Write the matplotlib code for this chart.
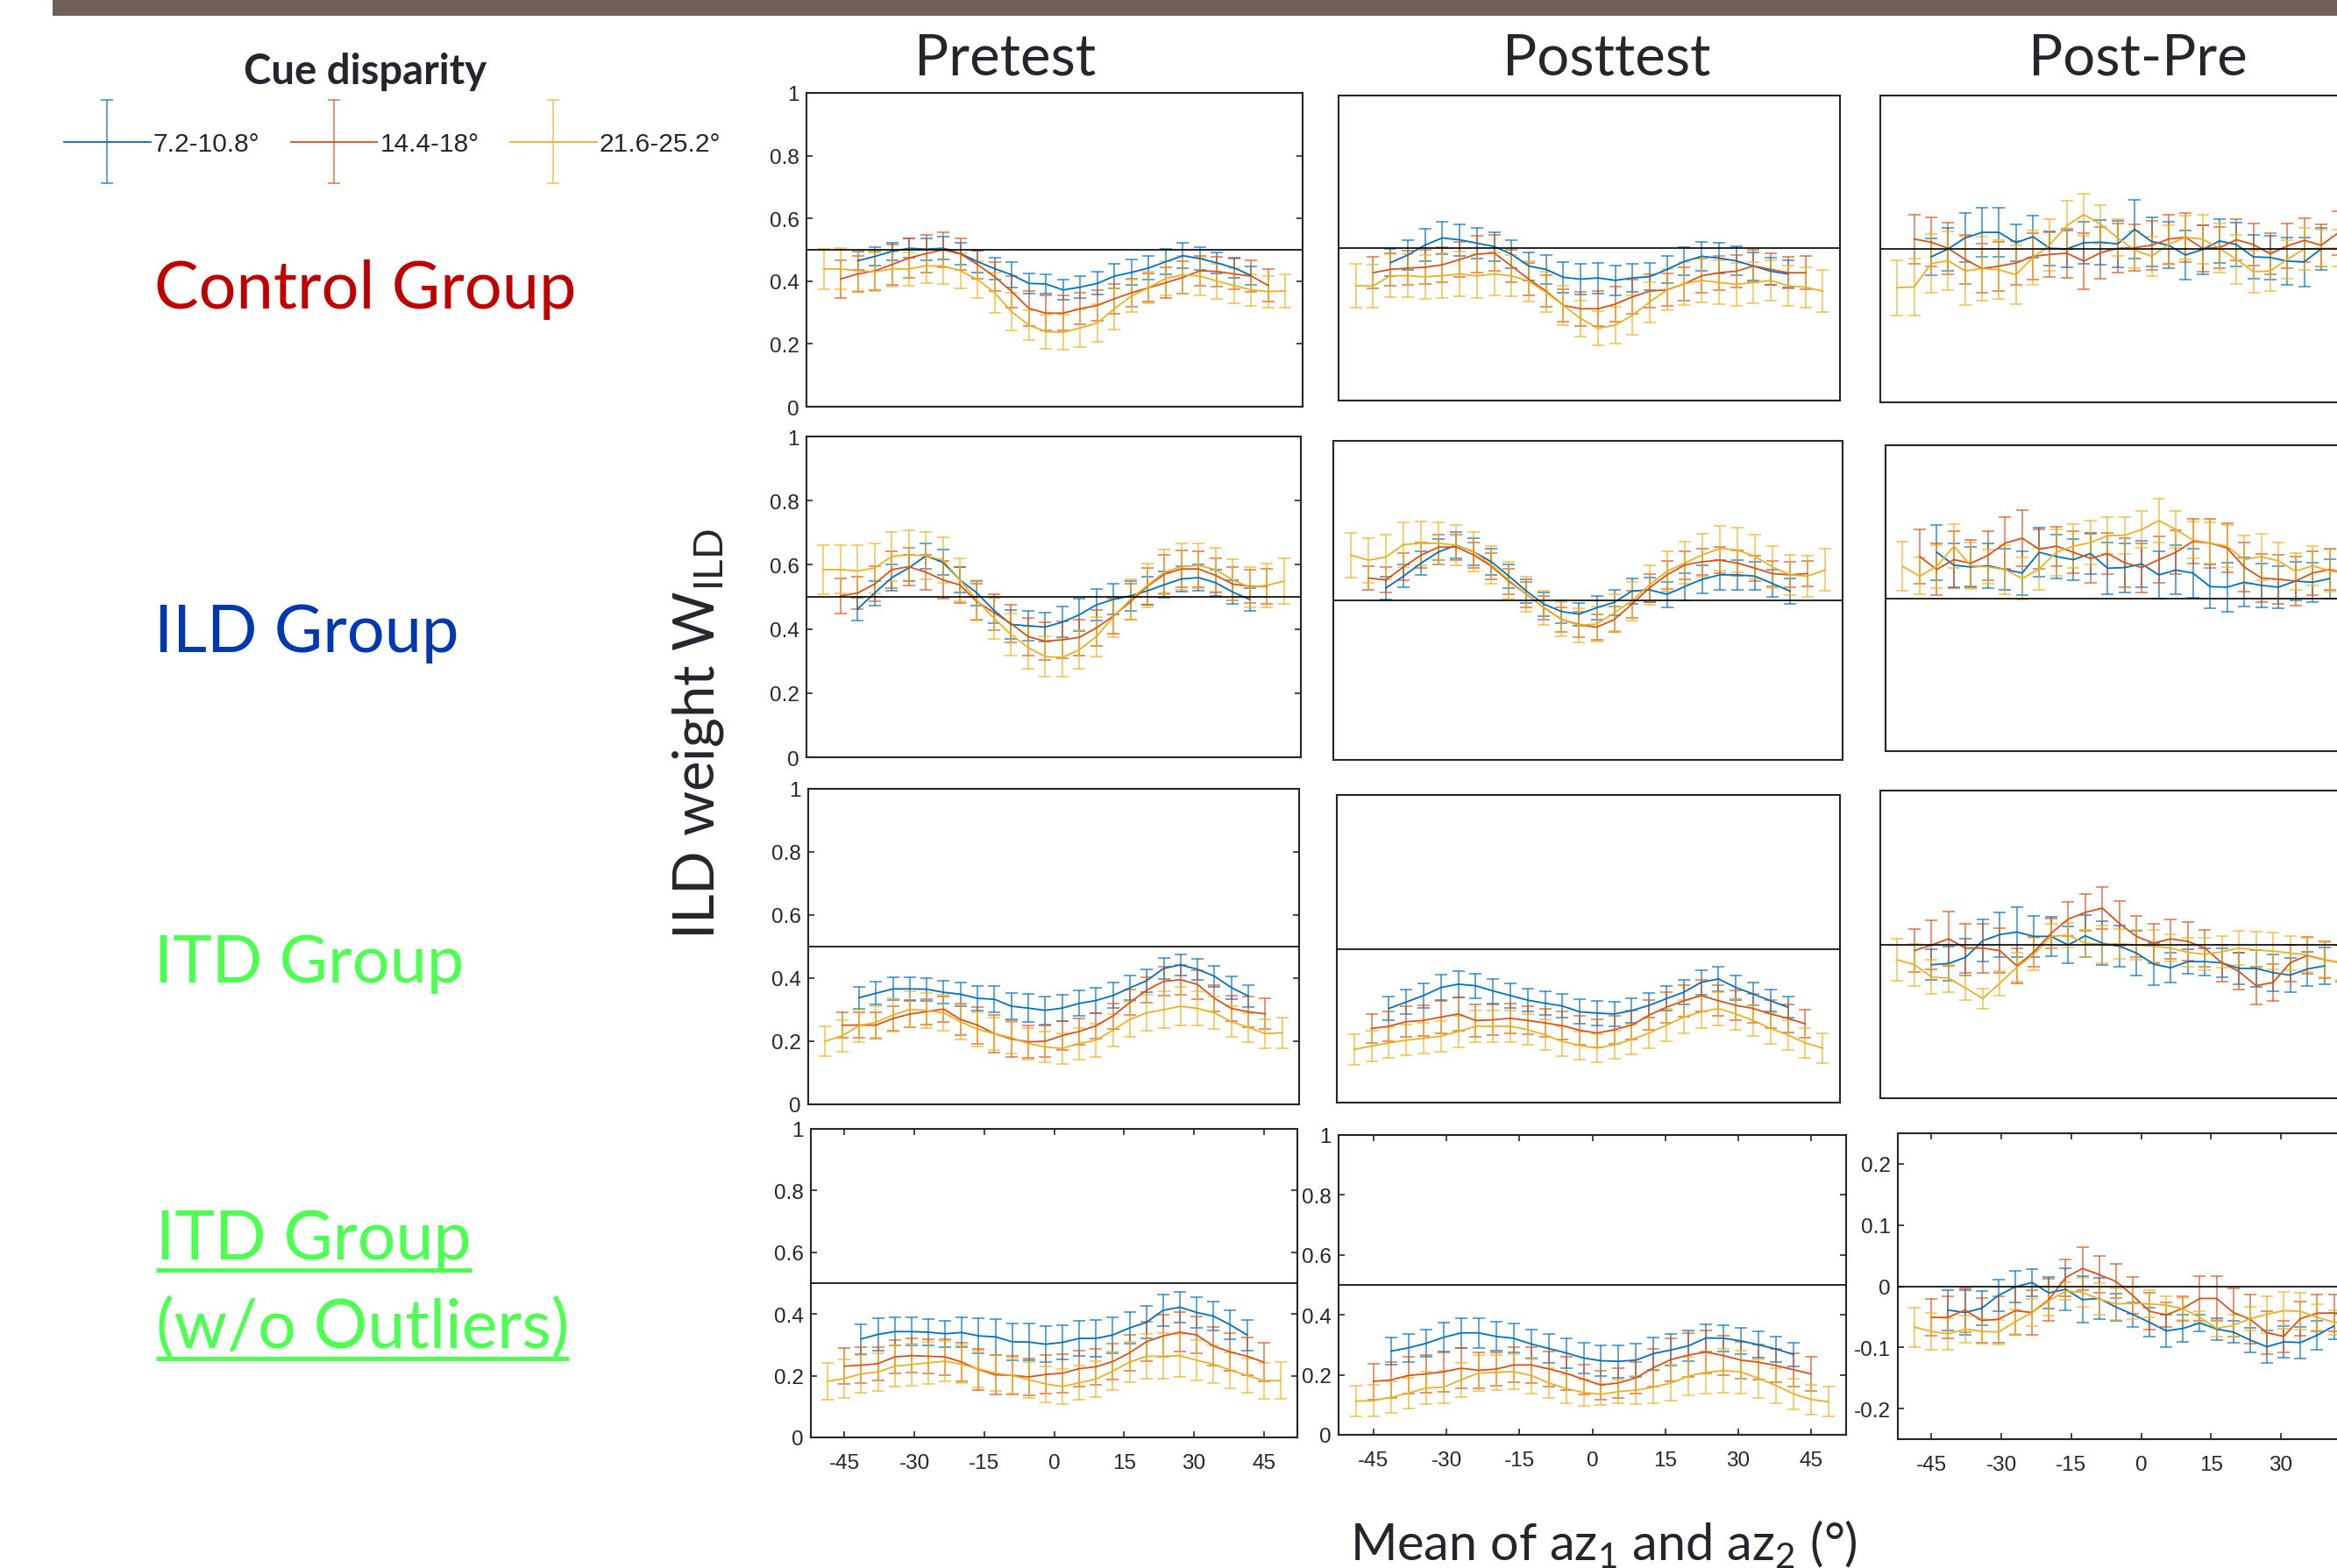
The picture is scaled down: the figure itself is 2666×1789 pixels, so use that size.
import matplotlib

matplotlib.use("Agg")

from matplotlib import pyplot as plt
from matplotlib.container import ErrorbarContainer
from matplotlib.legend_handler import HandlerErrorbar
from matplotlib.lines import Line2D
from matplotlib.patches import Rectangle

# mean of az1 and az2 (deg); the small disparity uses [2:26], the middle one [1:27]
azimuth = [-48.6, -45.0, -41.4, -37.8, -34.2, -30.6, -27.0, -23.4, -19.8, -16.2,
           -12.6, -9.0, -5.4, -1.8, 1.8, 5.4, 9.0, 12.6, 16.2, 19.8,
           23.4, 27.0, 30.6, 34.2, 37.8, 41.4, 45.0, 48.6]

disparity_labels = ["7.2-10.8°", "14.4-18°", "21.6-25.2°"]
phase_titles = ["Pretest", "Posttest", "Post-Pre"]
group_labels = ["Control Group", "ILD Group", "ITD Group"]
outlier_label = ["ITD Group", "(w/o Outliers)"]

weight_ticks = [0, 0.2, 0.4, 0.6, 0.8, 1]
weight_tick_labels = ["0", "0.2", "0.4", "0.6", "0.8", "1"]
diff_ticks = [-0.2, -0.1, 0, 0.1, 0.2]
diff_tick_labels = ["-0.2", "-0.1", "0", "0.1", "0.2"]
az_ticks = [-45, -30, -15, 0, 15, 30, 45]
az_tick_labels = ["-45", "-30", "-15", "0", "15", "30", "45"]

# ---- Control group ----
ctrl_pre_small = [0.465, 0.479, 0.495, 0.505, 0.502, 0.505, 0.488, 0.462, 0.440, 0.420, 0.393, 0.391,
                  0.372, 0.381, 0.393, 0.416, 0.428, 0.442, 0.462, 0.481, 0.472, 0.458, 0.442, 0.418]
ctrl_pre_small_err = [0.030, 0.030, 0.028, 0.030, 0.035, 0.036, 0.035, 0.034, 0.036, 0.040, 0.032, 0.030,
                      0.032, 0.034, 0.036, 0.038, 0.040, 0.038, 0.040, 0.040, 0.036, 0.034, 0.032, 0.030]
ctrl_pre_mid = [0.407, 0.423, 0.433, 0.453, 0.474, 0.488, 0.500, 0.487, 0.453, 0.414, 0.367, 0.313, 0.298,
                0.298, 0.312, 0.323, 0.344, 0.363, 0.379, 0.395, 0.412, 0.433, 0.431, 0.423, 0.416, 0.386]
ctrl_pre_mid_err = [0.060, 0.058, 0.062, 0.064, 0.062, 0.060, 0.055, 0.050, 0.045, 0.046, 0.050, 0.055, 0.056,
                    0.056, 0.050, 0.048, 0.048, 0.045, 0.045, 0.050, 0.052, 0.048, 0.048, 0.050, 0.050, 0.052]
ctrl_pre_large = [0.439, 0.439, 0.433, 0.430, 0.439, 0.439, 0.449, 0.448, 0.433, 0.405, 0.363, 0.302, 0.260, 0.239,
                  0.237, 0.251, 0.267, 0.312, 0.353, 0.379, 0.409, 0.420, 0.416, 0.400, 0.386, 0.372, 0.367, 0.369]
ctrl_pre_large_err = [0.065, 0.066, 0.065, 0.062, 0.055, 0.054, 0.054, 0.056, 0.055, 0.058, 0.065, 0.060, 0.048, 0.054,
                      0.056, 0.060, 0.060, 0.066, 0.052, 0.050, 0.055, 0.060, 0.060, 0.056, 0.055, 0.050, 0.050, 0.052]

ctrl_post_small = [0.452, 0.477, 0.510, 0.533, 0.527, 0.516, 0.505, 0.480, 0.441, 0.430, 0.404, 0.398,
                   0.402, 0.394, 0.402, 0.406, 0.430, 0.456, 0.473, 0.467, 0.458, 0.441, 0.424, 0.415]
ctrl_post_small_err = [0.045, 0.048, 0.052, 0.054, 0.052, 0.050, 0.048, 0.046, 0.046, 0.048, 0.050, 0.050,
                       0.050, 0.048, 0.046, 0.044, 0.044, 0.046, 0.048, 0.050, 0.048, 0.046, 0.044, 0.044]
ctrl_post_mid = [0.419, 0.430, 0.434, 0.437, 0.445, 0.462, 0.480, 0.484, 0.441, 0.398, 0.359, 0.312, 0.301,
                 0.301, 0.316, 0.340, 0.359, 0.363, 0.383, 0.409, 0.419, 0.424, 0.441, 0.430, 0.419, 0.419]
ctrl_post_mid_err = [0.052, 0.054, 0.056, 0.056, 0.058, 0.058, 0.060, 0.058, 0.054, 0.052, 0.052, 0.054, 0.056,
                     0.058, 0.058, 0.056, 0.054, 0.054, 0.054, 0.056, 0.056, 0.054, 0.052, 0.052, 0.052, 0.054]
ctrl_post_large = [0.376, 0.376, 0.409, 0.409, 0.406, 0.409, 0.415, 0.409, 0.415, 0.409, 0.391, 0.355, 0.312, 0.269,
                   0.237, 0.247, 0.280, 0.323, 0.363, 0.383, 0.394, 0.387, 0.381, 0.387, 0.394, 0.376, 0.372, 0.359]
ctrl_post_large_err = [0.072, 0.070, 0.070, 0.070, 0.072, 0.074, 0.074, 0.072, 0.070, 0.068, 0.066, 0.066, 0.064, 0.060,
                       0.056, 0.060, 0.064, 0.066, 0.068, 0.070, 0.072, 0.072, 0.070, 0.068, 0.066, 0.066, 0.066, 0.068]

ctrl_diff_small = [-0.013, 0.000, 0.018, 0.027, 0.027, 0.010, 0.020, 0.001, 0.000, 0.010, 0.011, 0.008,
                   0.032, 0.012, 0.006, -0.010, -0.001, 0.013, 0.007, -0.013, -0.014, -0.020, -0.021, 0.000]
ctrl_diff_small_err = [0.030, 0.035, 0.040, 0.040, 0.040, 0.030, 0.034, 0.028, 0.030, 0.034, 0.036, 0.038,
                       0.048, 0.040, 0.038, 0.040, 0.040, 0.036, 0.036, 0.036, 0.036, 0.038, 0.040, 0.034]
ctrl_diff_mid = [0.016, 0.011, 0.001, -0.017, -0.032, -0.028, -0.023, -0.012, -0.009, -0.007, -0.020, -0.006, 0.001,
                 0.002, 0.006, 0.016, 0.019, 0.001, 0.002, 0.015, 0.007, -0.008, 0.005, 0.014, 0.006, 0.026]
ctrl_diff_mid_err = [0.040, 0.040, 0.042, 0.040, 0.040, 0.040, 0.036, 0.038, 0.036, 0.040, 0.046, 0.042, 0.040,
                     0.038, 0.040, 0.040, 0.040, 0.038, 0.034, 0.034, 0.034, 0.034, 0.036, 0.036, 0.034, 0.036]
ctrl_diff_large = [-0.063, -0.062, -0.024, -0.019, -0.036, -0.032, -0.034, -0.042, -0.014, 0.007, 0.038, 0.056, 0.040,
                   0.018, -0.002, -0.012, 0.007, 0.019, 0.016, 0.001, -0.017, -0.037, -0.036, -0.017, 0.000, 0.001,
                   0.001, -0.004]
ctrl_diff_large_err = [0.045, 0.046, 0.048, 0.048, 0.056, 0.052, 0.048, 0.048, 0.044, 0.042, 0.040, 0.034, 0.032,
                       0.030, 0.030, 0.032, 0.032, 0.036, 0.040, 0.040, 0.040, 0.034, 0.032, 0.032, 0.034, 0.030,
                       0.030, 0.030]

# ---- ILD group ----
ild_pre_small = [0.462, 0.512, 0.560, 0.590, 0.628, 0.608, 0.553, 0.512, 0.458, 0.414, 0.410, 0.406,
                 0.421, 0.444, 0.475, 0.492, 0.503, 0.519, 0.538, 0.556, 0.560, 0.544, 0.515, 0.492]
ild_pre_small_err = [0.035, 0.038, 0.040, 0.042, 0.040, 0.040, 0.040, 0.038, 0.040, 0.044, 0.046, 0.046,
                     0.048, 0.050, 0.050, 0.048, 0.046, 0.044, 0.042, 0.040, 0.040, 0.040, 0.038, 0.036]
ild_pre_mid = [0.503, 0.512, 0.540, 0.585, 0.594, 0.577, 0.553, 0.537, 0.485, 0.451, 0.417, 0.376, 0.362,
               0.366, 0.374, 0.403, 0.440, 0.485, 0.533, 0.571, 0.587, 0.587, 0.567, 0.540, 0.533, 0.533]
ild_pre_mid_err = [0.055, 0.050, 0.055, 0.058, 0.058, 0.055, 0.058, 0.056, 0.055, 0.056, 0.058, 0.058, 0.060,
                   0.058, 0.056, 0.055, 0.055, 0.056, 0.058, 0.060, 0.058, 0.056, 0.054, 0.052, 0.052, 0.055]
ild_pre_large = [0.585, 0.585, 0.581, 0.590, 0.626, 0.631, 0.628, 0.615, 0.553, 0.489, 0.433, 0.383, 0.342, 0.314,
                 0.311, 0.335, 0.376, 0.437, 0.492, 0.536, 0.577, 0.594, 0.598, 0.585, 0.553, 0.530, 0.536, 0.549]
ild_pre_large_err = [0.077, 0.075, 0.080, 0.078, 0.076, 0.078, 0.074, 0.070, 0.066, 0.062, 0.064, 0.066, 0.065, 0.062,
                     0.060, 0.060, 0.062, 0.064, 0.064, 0.068, 0.070, 0.072, 0.070, 0.068, 0.065, 0.064, 0.068, 0.070]

ild_post_small = [0.539, 0.576, 0.617, 0.652, 0.673, 0.652, 0.621, 0.576, 0.529, 0.488, 0.465, 0.457,
                  0.477, 0.494, 0.529, 0.533, 0.519, 0.543, 0.566, 0.580, 0.580, 0.576, 0.553, 0.529]
ild_post_small_err = [0.035, 0.036, 0.038, 0.040, 0.042, 0.042, 0.040, 0.038, 0.038, 0.038, 0.036, 0.036,
                      0.038, 0.040, 0.040, 0.038, 0.040, 0.042, 0.044, 0.046, 0.046, 0.044, 0.042, 0.040]
ild_post_mid = [0.570, 0.564, 0.605, 0.642, 0.667, 0.667, 0.642, 0.607, 0.560, 0.519, 0.477, 0.440, 0.424,
                0.416, 0.440, 0.488, 0.539, 0.580, 0.611, 0.621, 0.626, 0.617, 0.601, 0.584, 0.580, 0.584]
ild_post_mid_err = [0.036, 0.040, 0.042, 0.040, 0.040, 0.040, 0.040, 0.040, 0.040, 0.040, 0.038, 0.038, 0.040,
                    0.040, 0.040, 0.042, 0.044, 0.044, 0.044, 0.042, 0.042, 0.040, 0.040, 0.040, 0.040, 0.040]
ild_post_large = [0.642, 0.626, 0.636, 0.675, 0.679, 0.679, 0.673, 0.652, 0.611, 0.564, 0.519, 0.477, 0.440, 0.422,
                  0.426, 0.461, 0.498, 0.549, 0.591, 0.617, 0.642, 0.663, 0.658, 0.638, 0.605, 0.580, 0.576, 0.595]
ild_post_large_err = [0.070, 0.070, 0.070, 0.070, 0.068, 0.066, 0.064, 0.062, 0.060, 0.058, 0.056, 0.054, 0.054, 0.054,
                      0.056, 0.058, 0.060, 0.062, 0.064, 0.066, 0.068, 0.070, 0.070, 0.068, 0.066, 0.064, 0.064, 0.066]

ild_diff_small = [0.075, 0.054, 0.051, 0.053, 0.047, 0.041, 0.075, 0.068, 0.063, 0.073, 0.049, 0.050,
                  0.056, 0.038, 0.046, 0.041, 0.019, 0.018, 0.026, 0.021, 0.018, 0.028, 0.026, 0.032]
ild_diff_small_err = [0.045, 0.036, 0.033, 0.036, 0.034, 0.036, 0.040, 0.036, 0.034, 0.034, 0.042, 0.040,
                      0.038, 0.038, 0.040, 0.040, 0.036, 0.040, 0.040, 0.036, 0.034, 0.032, 0.032, 0.032]
ild_diff_mid = [0.068, 0.047, 0.063, 0.057, 0.070, 0.090, 0.098, 0.080, 0.085, 0.075, 0.065, 0.073, 0.058,
                0.050, 0.063, 0.075, 0.093, 0.090, 0.082, 0.051, 0.033, 0.031, 0.028, 0.041, 0.047, 0.040]
ild_diff_mid_err = [0.045, 0.042, 0.046, 0.038, 0.040, 0.042, 0.046, 0.032, 0.032, 0.034, 0.040, 0.034, 0.040,
                    0.040, 0.038, 0.036, 0.036, 0.040, 0.040, 0.040, 0.040, 0.040, 0.040, 0.036, 0.034, 0.034]
ild_diff_large = [0.052, 0.036, 0.052, 0.085, 0.053, 0.051, 0.047, 0.032, 0.048, 0.075, 0.085, 0.091, 0.102, 0.103,
                  0.112, 0.127, 0.112, 0.095, 0.090, 0.085, 0.063, 0.068, 0.061, 0.044, 0.053, 0.045, 0.040, 0.038]
ild_diff_large_err = [0.040, 0.030, 0.035, 0.036, 0.038, 0.028, 0.040, 0.034, 0.034, 0.038, 0.036, 0.036, 0.030, 0.030,
                      0.030, 0.036, 0.030, 0.030, 0.034, 0.034, 0.040, 0.038, 0.030, 0.030, 0.032, 0.034, 0.034, 0.034]

# ---- ITD group ----
itd_pre_small = [0.338, 0.352, 0.366, 0.366, 0.365, 0.355, 0.349, 0.336, 0.333, 0.311, 0.305, 0.298,
                 0.305, 0.320, 0.329, 0.345, 0.369, 0.392, 0.431, 0.442, 0.428, 0.406, 0.370, 0.343]
itd_pre_small_err = [0.035, 0.036, 0.036, 0.036, 0.036, 0.036, 0.037, 0.040, 0.042, 0.042, 0.044, 0.044,
                     0.042, 0.040, 0.040, 0.040, 0.038, 0.036, 0.034, 0.034, 0.034, 0.034, 0.036, 0.034]
itd_pre_mid = [0.251, 0.251, 0.251, 0.272, 0.286, 0.294, 0.302, 0.269, 0.251, 0.224, 0.207, 0.198, 0.200,
               0.218, 0.231, 0.249, 0.280, 0.323, 0.362, 0.390, 0.395, 0.380, 0.336, 0.304, 0.293, 0.287]
itd_pre_mid_err = [0.040, 0.040, 0.042, 0.040, 0.042, 0.040, 0.040, 0.050, 0.058, 0.060, 0.058, 0.052, 0.050,
                   0.046, 0.042, 0.040, 0.040, 0.040, 0.040, 0.046, 0.048, 0.046, 0.042, 0.040, 0.048, 0.048]
itd_pre_large = [0.200, 0.217, 0.249, 0.260, 0.283, 0.301, 0.297, 0.290, 0.262, 0.238, 0.224, 0.211, 0.193, 0.182,
                 0.177, 0.193, 0.203, 0.235, 0.269, 0.290, 0.300, 0.311, 0.304, 0.290, 0.262, 0.244, 0.224, 0.227]
itd_pre_large_err = [0.048, 0.050, 0.052, 0.050, 0.052, 0.056, 0.056, 0.058, 0.056, 0.055, 0.052, 0.050, 0.050, 0.048,
                     0.048, 0.050, 0.052, 0.052, 0.055, 0.058, 0.058, 0.060, 0.055, 0.052, 0.048, 0.046, 0.045, 0.048]

itd_post_small = [0.306, 0.327, 0.348, 0.374, 0.385, 0.380, 0.363, 0.348, 0.333, 0.323, 0.314, 0.295,
                  0.291, 0.288, 0.299, 0.316, 0.338, 0.359, 0.391, 0.402, 0.374, 0.353, 0.331, 0.310]
itd_post_small_err = [0.038, 0.040, 0.040, 0.042, 0.042, 0.040, 0.040, 0.040, 0.038, 0.038, 0.038, 0.040,
                      0.040, 0.040, 0.040, 0.040, 0.040, 0.040, 0.040, 0.040, 0.040, 0.038, 0.036, 0.034]
itd_post_mid = [0.241, 0.248, 0.263, 0.267, 0.278, 0.288, 0.267, 0.269, 0.274, 0.267, 0.259, 0.250, 0.235,
                0.226, 0.237, 0.252, 0.284, 0.310, 0.331, 0.348, 0.331, 0.316, 0.306, 0.288, 0.274, 0.256]
itd_post_mid_err = [0.048, 0.048, 0.050, 0.050, 0.052, 0.054, 0.052, 0.050, 0.048, 0.046, 0.046, 0.046, 0.046,
                    0.046, 0.046, 0.046, 0.048, 0.050, 0.052, 0.052, 0.050, 0.048, 0.046, 0.046, 0.046, 0.046]
itd_post_large = [0.173, 0.184, 0.194, 0.203, 0.209, 0.216, 0.231, 0.248, 0.248, 0.248, 0.237, 0.220, 0.199, 0.186,
                  0.177, 0.188, 0.205, 0.226, 0.252, 0.278, 0.295, 0.306, 0.288, 0.267, 0.241, 0.220, 0.194, 0.177]
itd_post_large_err = [0.050, 0.050, 0.050, 0.050, 0.050, 0.050, 0.052, 0.052, 0.052, 0.050, 0.050, 0.050, 0.048, 0.046,
                      0.046, 0.046, 0.048, 0.050, 0.052, 0.054, 0.054, 0.054, 0.052, 0.050, 0.050, 0.048, 0.048, 0.048]

itd_diff_small = [-0.033, -0.031, -0.021, 0.006, 0.016, 0.020, 0.013, 0.013, -0.001, 0.014, 0.002, -0.003,
                  -0.014, -0.032, -0.038, -0.028, -0.028, -0.030, -0.039, -0.039, -0.046, -0.050, -0.040, -0.035]
itd_diff_small_err = [0.025, 0.028, 0.030, 0.034, 0.036, 0.040, 0.034, 0.032, 0.030, 0.034, 0.036, 0.034,
                      0.036, 0.034, 0.024, 0.020, 0.022, 0.024, 0.026, 0.030, 0.030, 0.028, 0.028, 0.030]
itd_diff_mid = [-0.010, -0.001, 0.009, -0.006, -0.006, -0.010, -0.035, -0.012, 0.018, 0.041, 0.052, 0.059, 0.034,
                0.013, 0.002, 0.009, 0.005, -0.006, -0.030, -0.044, -0.067, -0.062, -0.030, -0.018, -0.025, -0.030]
itd_diff_mid_err = [0.035, 0.040, 0.044, 0.040, 0.040, 0.036, 0.028, 0.024, 0.024, 0.028, 0.030, 0.034, 0.036,
                    0.034, 0.032, 0.032, 0.032, 0.030, 0.030, 0.030, 0.030, 0.030, 0.030, 0.030, 0.030, 0.030]
itd_diff_large = [-0.025, -0.033, -0.053, -0.055, -0.071, -0.088, -0.063, -0.037, -0.016, 0.013, 0.015, 0.002, 0.000,
                  0.001, -0.001, -0.003, -0.006, -0.013, -0.016, -0.012, -0.006, -0.009, -0.011, -0.014, -0.017,
                  -0.025, -0.030, -0.030]
itd_diff_large_err = [0.034, 0.034, 0.028, 0.022, 0.020, 0.016, 0.020, 0.024, 0.026, 0.020, 0.020, 0.022, 0.030,
                      0.024, 0.024, 0.026, 0.022, 0.024, 0.026, 0.026, 0.028, 0.030, 0.030, 0.028, 0.028, 0.028,
                      0.028, 0.028]

# ---- ITD group without outliers ----
itdx_pre_small = [0.319, 0.334, 0.343, 0.343, 0.341, 0.336, 0.340, 0.329, 0.326, 0.310, 0.309, 0.302,
                  0.308, 0.321, 0.321, 0.332, 0.355, 0.373, 0.412, 0.422, 0.405, 0.393, 0.365, 0.332]
itdx_pre_small_err = [0.048, 0.052, 0.046, 0.046, 0.042, 0.042, 0.048, 0.056, 0.058, 0.060, 0.060, 0.058,
                      0.056, 0.058, 0.060, 0.058, 0.052, 0.052, 0.050, 0.050, 0.050, 0.046, 0.046, 0.050]
itdx_pre_mid = [0.231, 0.234, 0.239, 0.261, 0.265, 0.263, 0.261, 0.244, 0.220, 0.203, 0.201, 0.196, 0.204,
                0.208, 0.223, 0.229, 0.246, 0.274, 0.310, 0.329, 0.341, 0.332, 0.296, 0.277, 0.263, 0.244]
itdx_pre_mid_err = [0.058, 0.058, 0.055, 0.055, 0.055, 0.055, 0.058, 0.062, 0.066, 0.063, 0.063, 0.060, 0.062,
                    0.062, 0.058, 0.058, 0.058, 0.058, 0.064, 0.068, 0.064, 0.060, 0.062, 0.060, 0.062, 0.062]
itdx_pre_large = [0.182, 0.191, 0.206, 0.212, 0.231, 0.236, 0.242, 0.247, 0.237, 0.222, 0.208, 0.201, 0.187, 0.173,
                  0.165, 0.177, 0.189, 0.215, 0.244, 0.263, 0.263, 0.265, 0.250, 0.237, 0.218, 0.201, 0.184, 0.184]
itdx_pre_large_err = [0.060, 0.062, 0.060, 0.062, 0.066, 0.068, 0.068, 0.065, 0.062, 0.060, 0.058, 0.058, 0.058, 0.058,
                      0.056, 0.056, 0.058, 0.062, 0.066, 0.072, 0.074, 0.070, 0.066, 0.062, 0.058, 0.056, 0.058, 0.060]

itdx_post_small = [0.279, 0.290, 0.305, 0.325, 0.340, 0.340, 0.328, 0.322, 0.303, 0.288, 0.273, 0.256,
                   0.247, 0.245, 0.249, 0.271, 0.283, 0.297, 0.323, 0.322, 0.313, 0.300, 0.286, 0.268]
itdx_post_small_err = [0.046, 0.046, 0.046, 0.048, 0.050, 0.050, 0.048, 0.048, 0.048, 0.048, 0.050, 0.052,
                       0.052, 0.054, 0.056, 0.054, 0.052, 0.050, 0.046, 0.044, 0.044, 0.044, 0.042, 0.040]
itdx_post_mid = [0.178, 0.183, 0.198, 0.203, 0.210, 0.222, 0.215, 0.219, 0.233, 0.233, 0.220, 0.205, 0.185,
                 0.166, 0.173, 0.190, 0.224, 0.251, 0.266, 0.276, 0.264, 0.249, 0.242, 0.231, 0.217, 0.203]
itdx_post_mid_err = [0.060, 0.060, 0.062, 0.062, 0.066, 0.068, 0.060, 0.056, 0.058, 0.060, 0.058, 0.056, 0.050,
                     0.048, 0.050, 0.052, 0.062, 0.072, 0.074, 0.072, 0.066, 0.062, 0.058, 0.056, 0.056, 0.056]
itdx_post_large = [0.112, 0.114, 0.125, 0.139, 0.156, 0.159, 0.183, 0.206, 0.208, 0.211, 0.198, 0.173, 0.154, 0.141,
                   0.135, 0.144, 0.149, 0.159, 0.173, 0.196, 0.208, 0.214, 0.210, 0.188, 0.164, 0.136, 0.118, 0.110]
itdx_post_large_err = [0.052, 0.052, 0.052, 0.052, 0.054, 0.054, 0.056, 0.060, 0.058, 0.058, 0.060, 0.050, 0.048,
                       0.044, 0.036, 0.040, 0.046, 0.054, 0.060, 0.064, 0.070, 0.074, 0.072, 0.064, 0.058, 0.052,
                       0.050, 0.050]

itdx_diff_small = [-0.039, -0.043, -0.036, -0.015, -0.001, 0.006, -0.011, -0.005, -0.022, -0.020, -0.034, -0.046,
                   -0.059, -0.073, -0.069, -0.060, -0.070, -0.075, -0.088, -0.099, -0.091, -0.092, -0.080, -0.065]
itdx_diff_small_err = [0.033, 0.036, 0.028, 0.026, 0.026, 0.022, 0.026, 0.034, 0.038, 0.034, 0.022, 0.020,
                       0.024, 0.026, 0.022, 0.014, 0.018, 0.018, 0.020, 0.026, 0.026, 0.026, 0.024, 0.022]
itdx_diff_mid = [-0.051, -0.051, -0.039, -0.056, -0.054, -0.040, -0.043, -0.022, 0.014, 0.029, 0.019, 0.008, -0.015,
                 -0.041, -0.047, -0.036, -0.020, -0.020, -0.043, -0.054, -0.076, -0.082, -0.053, -0.044, -0.044,
                 -0.050]
itdx_diff_mid_err = [0.030, 0.034, 0.036, 0.036, 0.038, 0.040, 0.036, 0.034, 0.030, 0.035, 0.030, 0.028, 0.030,
                     0.030, 0.020, 0.020, 0.036, 0.036, 0.040, 0.040, 0.035, 0.026, 0.028, 0.030, 0.030, 0.030]
itdx_diff_large = [-0.067, -0.074, -0.078, -0.070, -0.074, -0.075, -0.058, -0.043, -0.024, -0.008, -0.010, -0.021,
                   -0.029, -0.028, -0.029, -0.031, -0.037, -0.051, -0.069, -0.064, -0.053, -0.046, -0.040, -0.041,
                   -0.051, -0.059, -0.060, -0.065]
itdx_diff_large_err = [0.032, 0.030, 0.026, 0.022, 0.020, 0.020, 0.020, 0.022, 0.024, 0.014, 0.024, 0.026, 0.026,
                       0.026, 0.022, 0.014, 0.018, 0.010, 0.014, 0.018, 0.020, 0.030, 0.030, 0.030, 0.022, 0.020,
                       0.020, 0.020]

# rows: groups, columns: pretest / posttest / post-pre
panel_series = [
    [
        [(ctrl_pre_small, ctrl_pre_small_err), (ctrl_pre_mid, ctrl_pre_mid_err), (ctrl_pre_large, ctrl_pre_large_err)],
        [(ctrl_post_small, ctrl_post_small_err), (ctrl_post_mid, ctrl_post_mid_err), (ctrl_post_large, ctrl_post_large_err)],
        [(ctrl_diff_small, ctrl_diff_small_err), (ctrl_diff_mid, ctrl_diff_mid_err), (ctrl_diff_large, ctrl_diff_large_err)],
    ],
    [
        [(ild_pre_small, ild_pre_small_err), (ild_pre_mid, ild_pre_mid_err), (ild_pre_large, ild_pre_large_err)],
        [(ild_post_small, ild_post_small_err), (ild_post_mid, ild_post_mid_err), (ild_post_large, ild_post_large_err)],
        [(ild_diff_small, ild_diff_small_err), (ild_diff_mid, ild_diff_mid_err), (ild_diff_large, ild_diff_large_err)],
    ],
    [
        [(itd_pre_small, itd_pre_small_err), (itd_pre_mid, itd_pre_mid_err), (itd_pre_large, itd_pre_large_err)],
        [(itd_post_small, itd_post_small_err), (itd_post_mid, itd_post_mid_err), (itd_post_large, itd_post_large_err)],
        [(itd_diff_small, itd_diff_small_err), (itd_diff_mid, itd_diff_mid_err), (itd_diff_large, itd_diff_large_err)],
    ],
    [
        [(itdx_pre_small, itdx_pre_small_err), (itdx_pre_mid, itdx_pre_mid_err), (itdx_pre_large, itdx_pre_large_err)],
        [(itdx_post_small, itdx_post_small_err), (itdx_post_mid, itdx_post_mid_err), (itdx_post_large, itdx_post_large_err)],
        [(itdx_diff_small, itdx_diff_small_err), (itdx_diff_mid, itdx_diff_mid_err), (itdx_diff_large, itdx_diff_large_err)],
    ],
]

W, H = 2666, 1790
SERIES_COLORS = ["#0072BD", "#D95319", "#EDB120"]
SERIES_START = [2, 1, 0]
TEXT_DARK = "#25252d"
TICK_FONT = ["Liberation Sans Narrow", "Liberation Sans", "DejaVu Sans"]

# panel boxes in pixels: (left, top, right, bottom)
PANEL_BOXES = [
    [(920, 107, 1486, 465), (1527, 110, 2099, 458), (2145, 110, 2706, 460)],
    [(920, 499, 1484, 865), (1521, 504, 2102, 868), (2151, 509, 2716, 858)],
    [(922, 901, 1482, 1261), (1525, 908, 2099, 1259), (2145, 903, 2710, 1254)],
    [(925, 1289, 1480, 1641), (1527, 1296, 2106, 1638), (2165, 1294, 2720, 1643)],
]

plt.rcParams.update({
    "font.family": ["Lato", "DejaVu Sans"],
    "mathtext.fontset": "custom",
    "mathtext.rm": "Lato",
    "mathtext.it": "Lato:italic",
    "mathtext.bf": "Lato:bold",
    "axes.linewidth": 1.5,
    "axes.edgecolor": "#262626",
})


def px_rect(box):
    left, top, right, bottom = box
    return [left / W, 1 - bottom / H, (right - left) / W, (bottom - top) / H]


def draw_panel(ax, series, row, col):
    containers = []
    for (values, errors), color, start in zip(series, SERIES_COLORS, SERIES_START):
        xs = azimuth[start:start + len(values)]
        cont = ax.errorbar(xs, values, yerr=errors, color=color, lw=1.3, elinewidth=1.1,
                           capsize=4.7, capthick=1.1)
        for cap in cont[1]:
            cap.set_alpha(0.8)
        for bar in cont[2]:
            bar.set_alpha(0.8)
        containers.append(cont)

    ax.set_xlim(-52.2, 52.2)
    if col == 2:
        ax.set_ylim(-0.25, 0.25)
        ax.axhline(0, color="black", lw=1.2, zorder=6)
    else:
        ax.set_ylim(0, 1)
        ax.axhline(0.5, color="black", lw=1.2, zorder=6)

    ax.tick_params(direction="in", length=5, width=1.2, colors="#262626",
                   labelsize=17.5, labelfontfamily=TICK_FONT, labelcolor="#262626")
    bottom_row = row == 3
    if col == 0 or bottom_row:
        if col == 2:
            ax.set_yticks(diff_ticks)
            ax.set_yticklabels(diff_tick_labels)
        else:
            ax.set_yticks(weight_ticks)
            ax.set_yticklabels(weight_tick_labels)
        ax.tick_params(axis="y", left=True, right=True, pad=6)
    else:
        ax.set_yticks([])
    if bottom_row:
        ax.set_xticks(az_ticks)
        ax.set_xticklabels(az_tick_labels)
        ax.tick_params(axis="x", bottom=True, top=True, pad=13)
    else:
        ax.set_xticks([])
    return containers


fig = plt.figure(figsize=(W / 100, H / 100), dpi=100)

# slide header bar
fig.add_artist(Rectangle((60 / W, 1 - 19 / H), 1 - 60 / W, 19 / H, transform=fig.transFigure,
                         facecolor="#706056", edgecolor="none"))

legend_source = None
panel_axes = []
for row in range(4):
    for col in range(3):
        ax = fig.add_axes(px_rect(PANEL_BOXES[row][col]))
        conts = draw_panel(ax, panel_series[row][col], row, col)
        panel_axes.append(ax)
        if legend_source is None:
            legend_source = conts

# column titles
for title, cx in zip(phase_titles, [1147, 1833, 2439]):
    fig.text(cx / W, 1 - 85 / H, title, ha="center", va="baseline", fontsize=47, color=TEXT_DARK)

# legend
fig.text(417 / W, 1 - 82 / H, "Cue disparity", ha="center", va="center", fontsize=34,
         fontweight="bold", color=TEXT_DARK)
leg = fig.legend(legend_source, disparity_labels, loc="center left",
                 bbox_to_anchor=(73 / W, 1 - 165 / H), ncol=3, frameon=False,
                 borderpad=0, borderaxespad=0, handlelength=3.3, handletextpad=0.1,
                 columnspacing=1.2, prop={"family": ["Liberation Sans", "DejaVu Sans"], "size": 21.5},
                 handler_map={ErrorbarContainer: HandlerErrorbar(yerr_size=1.6)})
for txt in leg.get_texts():
    txt.set_color("#262626")

# group labels
group_colors = ["#c00000", "#0038b0", "#4dff50"]
group_baselines = [352, 744, 1121]
for label, color, base in zip(group_labels, group_colors, group_baselines):
    fig.text(176 / W, 1 - base / H, label, ha="left", va="baseline", fontsize=54.5, color=color)

underlined = []
for label, base in zip(outlier_label, [1437, 1538]):
    underlined.append(fig.text(178 / W, 1 - base / H, label, ha="left", va="baseline",
                               fontsize=55.5, color="#4dff50"))

# axis labels
fig.text(796 / W, 1 - 838 / H, r"ILD weight W$_{\mathrm{ILD}}$", rotation=90, ha="center",
         va="center", fontsize=47, color=TEXT_DARK)
fig.text(1829 / W, 1 - 1780 / H, r"Mean of az$_1$ and az$_2$ (°)", ha="center", va="baseline",
         fontsize=41.5, color=TEXT_DARK)

fig.canvas.draw()
renderer = fig.canvas.get_renderer()

# underline the outlier label lines
for txt, base in zip(underlined, [1437, 1538]):
    bb = txt.get_window_extent(renderer)
    y = 1 - (base + 13) / H
    fig.add_artist(Line2D([bb.x0 / W, bb.x1 / W], [y, y], transform=fig.transFigure,
                          color="#4dff50", lw=3.6, solid_capstyle="butt"))

# the Post-Pre panels run past the slide edge: hide tick labels that fall outside it
for ax in panel_axes:
    for lbl in ax.get_xticklabels():
        if lbl.get_window_extent(renderer).x1 > W:
            lbl.set_visible(False)

fig.savefig("out.png", dpi=100)
